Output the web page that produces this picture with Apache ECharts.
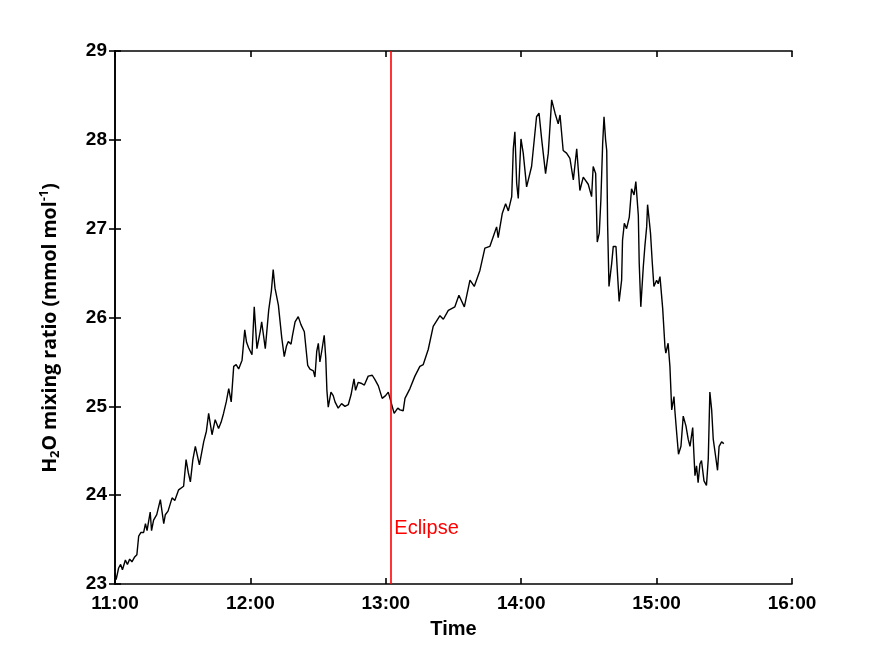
<!DOCTYPE html>
<html>
<head>
<meta charset="utf-8">
<script src="https://cdn.jsdelivr.net/npm/echarts@6/dist/echarts.min.js"></script>
<style>html,body{margin:0;padding:0;background:#fff}#c{width:875px;height:656px}</style>
</head>
<body>
<div id="c"></div>
<script>
// minutes after 11:00
const minutes = [0,0.5,1.6,2.5,3.3,4.6,5.5,6.5,7.5,8.6,9.7,10.5,11.5,12.7,13.5,14.2,15.6,16.2,17.1,18.5,20.1,21.6,22.3,23.5,25.3,26.5,28.2,30.4,31.5,32.5,33.4,34.5,35.6,37.4,39.3,40.5,41.5,43,44.4,45.9,47,48.1,49.3,50.4,51.5,52.6,53.7,54.8,56.3,57.5,58.3,59.2,60.7,61.7,62.9,64.4,65,65.8,66.6,68.1,69.3,70.1,70.9,72.4,73.9,75,76,76.8,78,78.6,79.8,81.2,82.4,83.9,85.4,86.4,87.9,88.6,89.4,90.1,90.8,91.6,92.7,93.4,93.9,94.5,95.7,96.7,97.5,98.9,100.4,101.9,103.4,104.6,105.9,106.6,107.8,109,110.5,112.2,114,115.2,116.7,118.4,119.9,121.1,122.3,123.7,125.3,126.3,127.7,128.5,130.7,132.9,135.1,136.6,138.8,141,144,145.5,147.7,150.6,152.4,154.8,157.3,159.2,161.7,163.9,166.1,167.6,169.1,169.8,171.6,173.1,174.3,175.8,176.5,177.2,178,178.7,179.9,180.9,182.4,184.6,186.8,187.9,189.1,190.8,192,193.5,195,196.4,197.2,198.6,200.1,201.6,203.1,204.6,206,207.5,209.7,211.2,211.9,213,213.7,214.6,215.3,216.1,216.7,217.4,217.9,218.3,218.9,220.1,220.8,222,222.7,223.4,224.5,224.9,225.7,226.7,227.9,228.9,230,230.8,231.9,232.3,233,234.1,234.8,235.6,236,236.7,237.3,238.1,238.8,240,240.7,241.5,242.7,243.7,244.1,245.1,245.9,246.7,247.7,248.1,248.9,249.7,250.8,251.8,253,254,254.8,256,256.5,257,257.7,258.4,259.2,259.9,261,262.1,262.9,263.6,264.4,265.1,266.3,267,267.7,268.8,269.8];
const h2o = [23.12,23.05,23.18,23.22,23.16,23.27,23.22,23.28,23.25,23.3,23.33,23.54,23.58,23.58,23.68,23.6,23.81,23.6,23.72,23.78,23.95,23.68,23.78,23.82,23.97,23.94,24.06,24.1,24.4,24.25,24.15,24.4,24.55,24.34,24.6,24.72,24.92,24.68,24.85,24.75,24.82,24.92,25.05,25.2,25.05,25.45,25.47,25.42,25.52,25.86,25.72,25.66,25.58,26.12,25.65,25.85,25.95,25.8,25.65,26.08,26.3,26.54,26.33,26.14,25.77,25.56,25.68,25.73,25.7,25.79,25.95,26.01,25.92,25.84,25.46,25.42,25.40,25.33,25.62,25.71,25.5,25.62,25.80,25.54,25.18,24.99,25.16,25.12,25.05,24.98,25.03,25.0,25.02,25.13,25.31,25.18,25.27,25.26,25.24,25.34,25.35,25.30,25.23,25.09,25.12,25.16,25.05,24.92,24.98,24.96,24.95,25.09,25.20,25.34,25.45,25.47,25.64,25.90,26.02,25.98,26.08,26.12,26.25,26.12,26.42,26.35,26.53,26.78,26.80,26.91,27.02,26.90,27.17,27.28,27.2,27.36,27.90,28.09,27.51,27.34,28.01,27.85,27.47,27.70,28.26,28.30,28.0,27.62,27.85,28.45,28.3,28.18,28.28,27.88,27.85,27.79,27.55,27.90,27.43,27.58,27.5,27.36,27.70,27.62,26.85,26.95,27.32,27.96,28.26,28.0,27.88,27.04,26.35,26.61,26.80,26.80,26.48,26.18,26.42,26.87,27.06,27.0,27.13,27.45,27.38,27.53,27.15,26.61,26.12,26.57,26.80,27.02,27.27,27.1,26.95,26.61,26.35,26.42,26.38,26.46,26.10,25.67,25.6,25.71,25.45,24.96,25.11,24.95,24.70,24.46,24.55,24.89,24.78,24.63,24.55,24.76,24.48,24.22,24.33,24.14,24.35,24.39,24.16,24.11,24.41,25.16,24.96,24.63,24.41,24.28,24.55,24.60,24.58];
const tickLabels = ['11:00','12:00','13:00','14:00','15:00','16:00'];
const eclipseMinute = 122;
const eclipseLabel = 'Eclipse';
const eclipseLabelValue = 23.62;

const chart = echarts.init(document.getElementById('c'), null, {renderer:'canvas'});
const axisCommon = {
  axisLine:{show:true, lineStyle:{color:'#000', width:1.6}},
  axisTick:{show:true, inside:true, length:6, lineStyle:{color:'#000', width:1.6}},
  splitLine:{show:false}
};
const labelFont = {fontFamily:'Liberation Sans, Arial', fontWeight:'bold', fontSize:19, color:'#000'};
chart.setOption({
  animation:false,
  backgroundColor:'#fff',
  grid:{left:115, top:51, right:83, bottom:72, containLabel:false},
  xAxis:[
    Object.assign({type:'value', min:0, max:300, interval:60, position:'bottom',
      name:'Time', nameLocation:'middle', nameGap:35,
      nameTextStyle:Object.assign({}, labelFont, {fontSize:20}),
      axisLabel:Object.assign({margin:10, formatter:v=>tickLabels[Math.round(v/60)]}, labelFont)}, axisCommon),
    Object.assign({type:'value', min:0, max:300, interval:60, position:'top', axisLabel:{show:false}}, axisCommon)
  ],
  yAxis:[
    Object.assign({type:'value', min:23, max:29, interval:1, position:'left',
      axisLabel:Object.assign({margin:8}, labelFont)}, axisCommon),
    Object.assign({type:'value', min:23, max:29, interval:1, position:'right', axisLabel:{show:false}}, axisCommon)
  ],
  series:[{
    type:'line',
    data:minutes.map((m,i)=>[m,h2o[i]]),
    showSymbol:false,
    lineStyle:{color:'#000', width:1.4},
    markLine:{
      silent:true, symbol:'none',
      lineStyle:{color:'#ff0000', width:1.6, type:'solid'},
      label:{show:false},
      data:[{xAxis:eclipseMinute}]
    },
    markPoint:{
      symbol:'rect', symbolSize:0,
      label:{show:true, formatter:eclipseLabel, position:'right', distance:4,
        color:'#ff0000', fontFamily:'Liberation Sans, Arial', fontSize:20},
      data:[{coord:[eclipseMinute, eclipseLabelValue]}]
    }
  }],
  graphic:[{
    type:'text', left:38, top:'middle', rotation:Math.PI/2,
    style:{
      text:'{b|H}{s|2}{b|O mixing ratio (mmol mol}{p|-1}{b|)}',
      rich:{
        b:{fontFamily:'Open Sans, DejaVu Sans', fontWeight:'bold', fontSize:19.5, fill:'#000'},
        s:{fontFamily:'Open Sans, DejaVu Sans', fontWeight:'bold', fontSize:13, fill:'#000', verticalAlign:'bottom', padding:[11,0,0,0]},
        p:{fontFamily:'Open Sans, DejaVu Sans', fontWeight:'bold', fontSize:13, fill:'#000', padding:[0,0,11,0]}
      }
    }
  }]
});
</script>
</body>
</html>
